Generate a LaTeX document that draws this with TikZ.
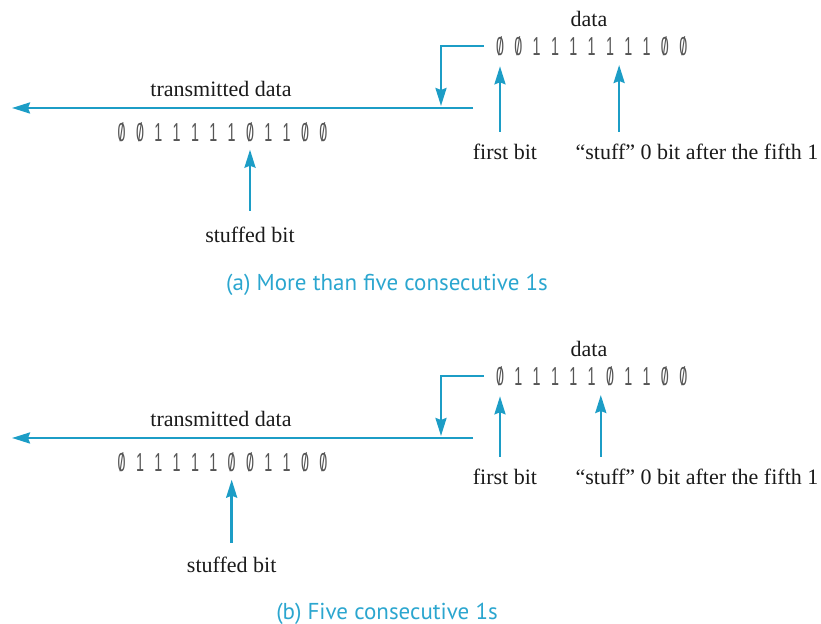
\documentclass[tikz,border=0pt]{standalone}
\usepackage{fontspec}
\usepackage{graphicx}
\usetikzlibrary{arrows.meta}
\setmainfont{Liberation Serif}
\newfontfamily\bitfamily{Liberation Sans}
\newfontfamily\capfamily{PT Sans}
\definecolor{linecyan}{HTML}{1C9DC6}
\definecolor{capcyan}{HTML}{2BA6CF}
\definecolor{bitgray}{HTML}{555555}
\definecolor{lblblack}{HTML}{1A1A1A}
% Narrow bit digit, zero drawn with a slash.
\newcommand{\bitglyph}[1]{\scalebox{0.55}[1]{\ifnum#1=0 \ooalign{0\cr\hidewidth/\hidewidth\cr}\else#1\fi}}

\begin{document}
\begin{tikzpicture}[x=0.5pt, y=-0.5pt]
        \tikzstyle{bit}  = [inner sep=0pt, text=bitgray, font=\bitfamily\fontsize{13}{15}\selectfont, text height=9.3pt, text depth=0pt]
        \tikzstyle{lbl}  = [inner sep=0pt, text=lblblack, font=\fontsize{11}{13}\selectfont, text height=7.5pt, text depth=2.2pt]
        \tikzstyle{capt} = [inner sep=0pt, text=capcyan, font=\capfamily\fontsize{11.5}{14}\selectfont]
        \tikzstyle{tran} = [-{Stealth[length=9pt, width=5.5pt, inset=1pt]}, draw=linecyan, line width=1.2pt]

        \useasboundingbox (0,0) rectangle (821,624);

        % Draws both cases, one below the other.
        \foreach \p/\dy/\dat/\snt/\ga/\sf/\sg/\fy/\sy/\cy/\cap in {
                a/  0/{0,0,1,1,1,1,1,1,1,0,0}/{0,0,1,1,1,1,1,0,1,1,0,0}/7/8/8pt/154/237/285/{(a) More than five consecutive 1s},
                b/330/{0,1,1,1,1,1,0,1,1,0,0}/{0,1,1,1,1,1,0,0,1,1,0,0}/6/7/7pt/479/567/614/{(b) Five consecutive 1s}} {

            % The bits, as given and as sent.
            \foreach[count=\i] \b in \dat
                \node[bit] (\p d\i) at (500+18.33*\i-18.33, 46+\dy) {\bitglyph{\b}};
            \foreach[count=\i] \b in \snt
                \node[bit] (\p t\i) at (121.7+18.33*\i-18.33, 132+\dy) {\bitglyph{\b}};

            % Labels.
            \node[lbl] (\p data)    at (589, 21+\dy)               {data};
            \node[lbl] (\p sent)    at (221, 91+\dy)               {transmitted data};
            \node[lbl] (\p first)   at (505, \fy)                  {first bit};
            \node[lbl] (\p stuff)   at (697, \fy)                  {``stuff'' 0 bit after the fifth 1};
            \node[lbl] (\p stuffed) at (121.7+18.33*\sf-18.33, \sy) {stuffed bit};
            \node[capt] (\p cap)    at (387, \cy)                  {\cap};

            % The line and the arrows.
            \coordinate (\p in)   at (473, 108+\dy);
            \coordinate (\p out)  at ( 12, 108+\dy);
            \coordinate (\p drop) at (441, 106+\dy);
            \coordinate (\p gap)  at (500+18.33*\ga-9.17, 54.4+\dy);
            \draw[tran] (\p in) -- (\p out);
            \draw[tran] ([xshift=-6pt]\p d1.west) -| (\p drop);
            \draw[tran, shorten <=6pt, shorten >=5.3pt] (\p first.north -| \p d1) -- (\p d1);
            \draw[tran, shorten <=6pt, shorten >=5.3pt] (\p stuff.north -| \p gap) -- (\p gap);
            \draw[tran, shorten <=\sg, shorten >=4pt] (\p stuffed.north -| \p t\sf) -- (\p t\sf);
        }
    \end{tikzpicture}
\end{document}
